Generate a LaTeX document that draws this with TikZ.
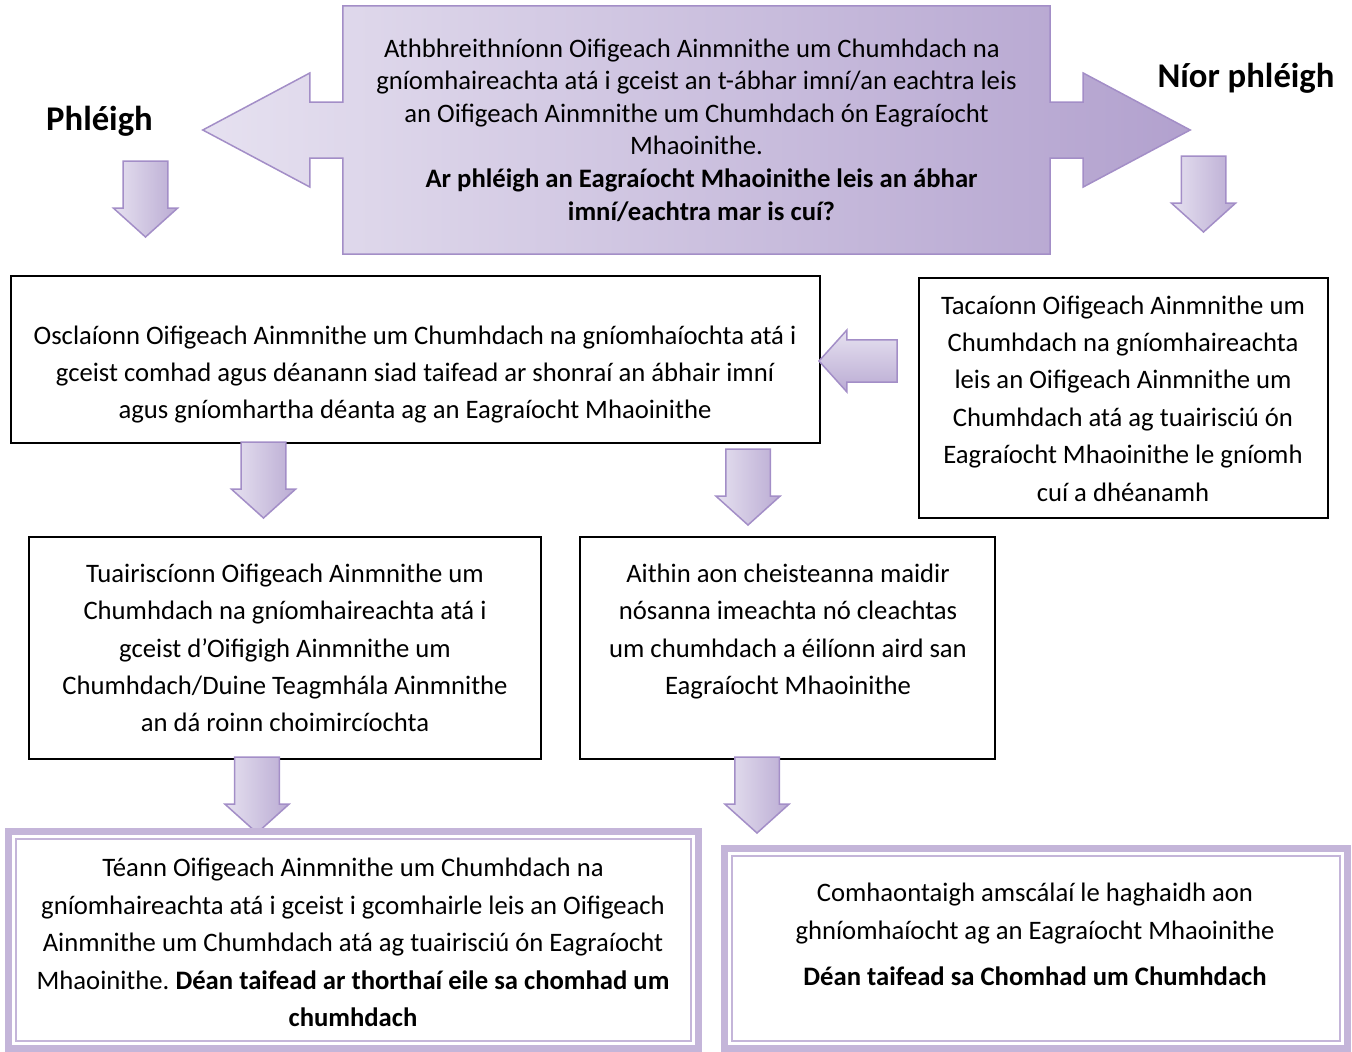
\documentclass[tikz,border=0pt]{standalone}
\usepackage{fontspec}
\setmainfont{Carlito}
\usepackage{xcolor}
\usetikzlibrary{positioning,backgrounds,shapes.arrows,calc}

\definecolor{lavline}{RGB}{163,142,199}
\definecolor{lavlight}{RGB}{230,225,240}
\definecolor{lavdark}{RGB}{186,171,211}
\definecolor{lavdeep}{RGB}{178,161,206}
\definecolor{lavframe}{RGB}{196,181,217}

\newcommand{\bodyfont}{\fontsize{26.67pt}{37.4pt}\selectfont}
\newcommand{\askfont}{\fontsize{26.67pt}{32.6pt}\selectfont}
\frenchspacing

\begin{document}
\begin{tikzpicture}[
    x=1pt, y=-1pt,
    plainbox/.style = {rectangle, draw=black, line width=1.3pt, inner sep=0pt, outer sep=0pt},
    framebox/.style = {rectangle, draw=lavframe, line width=7pt, inner sep=0pt, outer sep=0pt},
    innerline/.style = {draw=lavframe, line width=2pt},
    txt/.style = {align=center, font=\bodyfont, inner sep=0pt},
    headlabel/.style = {font=\fontsize{34.67pt}{40pt}\selectfont\bfseries, inner sep=0pt},
    blockarrow/.style = {
        single arrow,
        draw=lavline,
        line width=1.5pt,
        inner sep=15.5pt,
        outer sep=0pt,
        minimum height=76pt,
        minimum width=64pt,
        single arrow tip angle=96,
        left color=lavlight,
        right color=lavdark
    },
    downarrow/.style = {blockarrow, shape border rotate=270, anchor=tip},
    line join=miter
]
\useasboundingbox (0,0) rectangle (1352,1052);

% Top question with two way arrow
\node[txt, font=\askfont, minimum width=707pt, minimum height=248pt] (ask) at (696.5,130) {
    Athbhreithníonn Oifigeach Ainmnithe um Chumhdach na\hspace*{9pt}\\
    gníomhaireachta atá i gceist an t-ábhar imní/an eachtra leis\hspace*{9pt}\\
    an Oifigeach Ainmnithe um Chumhdach ón Eagraíocht\hspace*{9pt}\\
    Mhaoinithe.\hspace*{9pt}\\
    \hspace*{10pt}\textbf{Ar phléigh an Eagraíocht Mhaoinithe leis an ábhar}\\
    \hspace*{10pt}\textbf{imní/eachtra mar is cuí?}
};

\begin{scope}[on background layer]
\draw[draw=lavline, line width=1.5pt, left color=lavlight, right color=lavdeep]
    (ask.north west) -- (ask.north east) -- ($(ask.east)+(0,-28)$) -- ++(33,0) -- ++(0,-29)
    -- ($(ask.east)+(140,0)$) -- ($(ask.east)+(33,57)$) -- ++(0,-29) -- ++(-33,0)
    -- (ask.south east) -- (ask.south west) -- ($(ask.west)+(0,28)$) -- ++(-33,0) -- ++(0,29)
    -- ($(ask.west)+(-140,0)$) -- ($(ask.west)+(-33,-57)$) -- ++(0,29) -- ++(33,0) -- cycle;
\end{scope}

\node[headlabel] (yes) at (99.5,121) {Phléigh};
\node[headlabel] (no) at (1246,78) {Níor phléigh};

\node[downarrow] (yesarrow) at (145.5,237) {};
\node[downarrow] (noarrow) at (1203.5,232) {};

% Row 1
\node[plainbox, minimum width=809pt, minimum height=167pt] (open) at (415.5,359.5) {};
\node[txt] (opentxt) at (415,374.5) {
    Osclaíonn Oifigeach Ainmnithe um Chumhdach na gníomhaíochta atá i\\
    gceist comhad agus déanann siad taifead ar shonraí an ábhair imní\\
    agus gníomhartha déanta ag an Eagraíocht Mhaoinithe
};

\node[plainbox, minimum width=409pt, minimum height=240pt] (support) at (1123.5,398) {};
\node[txt] (supporttxt) at (1123,398.5) {
    Tacaíonn Oifigeach Ainmnithe um\\
    Chumhdach na gníomhaireachta\\
    leis an Oifigeach Ainmnithe um\\
    Chumhdach atá ag tuairisciú ón\\
    Eagraíocht Mhaoinithe le gníomh\\
    cuí a dhéanamh
};

\node[blockarrow, shape border rotate=180, anchor=tip, minimum height=78pt, minimum width=62pt,
      inner sep=14.5pt, top color=lavlight, bottom color=lavdark] (backarrow) at (819,361) {};

\node[downarrow] (openarrowL) at (263.5,518) {};
\node[downarrow] (openarrowR) at (748,525) {};

% Row 2
\node[plainbox, minimum width=512pt, minimum height=222pt] (report) at (285,648) {};
\node[txt] (reporttxt) at (285,648) {
    Tuairiscíonn Oifigeach Ainmnithe um\\
    Chumhdach na gníomhaireachta atá i\\
    gceist d’Oifigigh Ainmnithe um\\
    Chumhdach/Duine Teagmhála Ainmnithe\\
    an dá roinn choimircíochta
};

\node[plainbox, minimum width=415pt, minimum height=222pt] (identify) at (787.5,648) {};
\node[txt] (identifytxt) at (788,631.5) {
    Aithin aon cheisteanna maidir\\
    nósanna imeachta nó cleachtas\\
    um chumhdach a éilíonn aird san\\
    Eagraíocht Mhaoinithe
};

\node[downarrow] (reportarrow) at (257,833) {};
\node[downarrow] (identifyarrow) at (757,833) {};

% Row 3
\node[framebox, minimum width=690pt, minimum height=217pt] (consult) at (353.5,940) {};
\draw[innerline] ($(consult.north west)+(7.5,7.5)$) rectangle ($(consult.south east)+(-7.5,-7.5)$);
\node[txt] (consulttxt) at (353,942.5) {
    Téann Oifigeach Ainmnithe um Chumhdach na\\
    gníomhaireachta atá i gceist i gcomhairle leis an Oifigeach\\
    Ainmnithe um Chumhdach atá ag tuairisciú ón Eagraíocht\\
    Mhaoinithe. \textbf{Déan taifead ar thorthaí eile sa chomhad um}\\
    \textbf{chumhdach}
};

\node[framebox, minimum width=623pt, minimum height=200pt] (agree) at (1036,948.5) {};
\draw[innerline] ($(agree.north west)+(7.5,7.5)$) rectangle ($(agree.south east)+(-7.5,-7.5)$);
\node[txt] (agreetxt) at (1035,934.5) {
    Comhaontaigh amscálaí le haghaidh aon\\
    ghníomhaíocht ag an Eagraíocht Mhaoinithe\\[9pt]
    \textbf{Déan taifead sa Chomhad um Chumhdach}
};

\end{tikzpicture}
\end{document}
